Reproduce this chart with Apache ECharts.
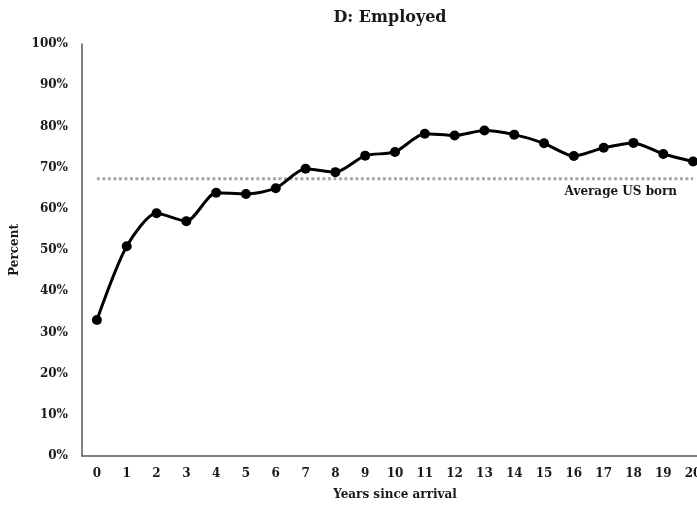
<!DOCTYPE html>
<html>
<head>
<meta charset="utf-8">
<script src="https://cdn.jsdelivr.net/npm/echarts@6/dist/echarts.min.js"></script>
<style>
  html, body { margin: 0; padding: 0; background: #fff; overflow: hidden; }
  #chart { width: 708px; height: 506px; }
</style>
</head>
<body>
<div id="chart"></div>
<script>
var years = ['0','1','2','3','4','5','6','7','8','9','10','11','12','13','14','15','16','17','18','19','20']
var employed = [33.0, 50.9, 58.9, 57.0, 63.9, 63.6, 65.0, 69.7, 68.9, 72.9, 73.8, 78.2, 77.8, 79.0, 78.0, 75.9, 72.8, 74.8, 76.0, 73.3, 71.5]
var usBornAvg = 67.3
var yTicks = [0, 10, 20, 30, 40, 50, 60, 70, 80, 90, 100]

var serif = '"DejaVu Serif", "Liberation Serif", serif'
var avgLine = years.map(function () { return usBornAvg })

// canvas is a bit wider than the window so the last category is cut off like the original
var chart = echarts.init(document.getElementById('chart'))
chart.setOption({
  backgroundColor: '#fff',
  animation: false,
  title: {
    text: 'D: Employed',
    left: 385,
    top: 5,
    textAlign: 'center',
    textStyle: { fontFamily: serif, fontWeight: 'bold', fontSize: 16, color: '#1a1a1a' }
  },
  grid: { left: 82, top: 44, right: 0, bottom: 50, containLabel: false },
  xAxis: {
    type: 'category',
    data: years,
    boundaryGap: true,
    name: 'Years since arrival',
    nameLocation: 'middle',
    nameGap: 33,
    nameTextStyle: { fontFamily: serif, fontWeight: 'bold', fontSize: 12, color: '#1a1a1a' },
    axisLine: { lineStyle: { color: '#595959', width: 1.5 } },
    axisTick: { show: false },
    axisLabel: { fontFamily: serif, fontWeight: 'bold', fontSize: 12, color: '#1a1a1a', margin: 12, interval: 0 }
  },
  yAxis: {
    type: 'value',
    min: yTicks[0],
    max: yTicks[yTicks.length - 1],
    interval: 10,
    name: 'Percent',
    nameLocation: 'middle',
    nameGap: 56,
    nameRotate: 90,
    nameTextStyle: { fontFamily: serif, fontWeight: 'bold', fontSize: 12, color: '#1a1a1a' },
    axisLine: { show: true, lineStyle: { color: '#595959', width: 1.5 } },
    axisTick: { show: false },
    splitLine: { show: false },
    axisLabel: { fontFamily: serif, fontWeight: 'bold', fontSize: 12, color: '#1a1a1a', margin: 14, formatter: '{value}%' }
  },
  series: [{
    name: 'Average US born',
    type: 'line',
    data: avgLine,
    symbol: 'none',
    lineStyle: { color: '#a6a6a6', width: 3, type: [3, 2.5] },
    endLabel: {
      show: true,
      formatter: 'Average US born',
      fontFamily: serif,
      fontWeight: 'bold',
      fontSize: 12,
      color: '#1a1a1a',
      align: 'right',
      verticalAlign: 'middle',
      offset: [-24, 13]
    },
    z: 1
  }, {
    name: 'Employed',
    type: 'line',
    data: employed,
    smooth: 0.25,
    symbol: 'circle',
    symbolSize: 10,
    itemStyle: { color: '#000' },
    lineStyle: { color: '#000', width: 3 },
    z: 3
  }]
})
</script>
</body>
</html>
